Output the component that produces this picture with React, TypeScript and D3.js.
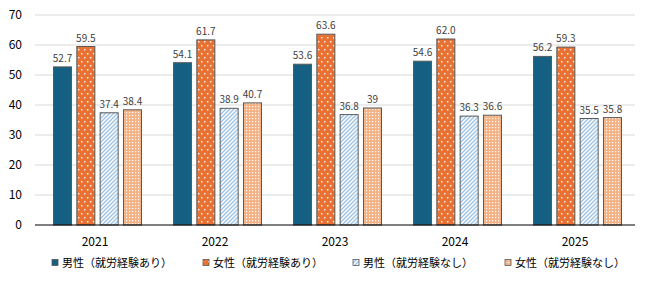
import React from "react";
import * as d3 from "d3";

const years = ["2021", "2022", "2023", "2024", "2025"];
const seriesNames = [
  "男性（就労経験あり）",
  "女性（就労経験あり）",
  "男性（就労経験なし）",
  "女性（就労経験なし）",
];
const maleWork = [52.7, 54.1, 53.6, 54.6, 56.2];
const femaleWork = [59.5, 61.7, 63.6, 62.0, 59.3];
const maleNoWork = [37.4, 38.9, 36.8, 36.3, 35.5];
const femaleNoWork = [38.4, 40.7, 39, 36.6, 35.8];
const maleWorkLabels = ["52.7", "54.1", "53.6", "54.6", "56.2"];
const femaleWorkLabels = ["59.5", "61.7", "63.6", "62.0", "59.3"];
const maleNoWorkLabels = ["37.4", "38.9", "36.8", "36.3", "35.5"];
const femaleNoWorkLabels = ["38.4", "40.7", "39", "36.6", "35.8"];
const yTicks = [0, 10, 20, 30, 40, 50, 60, 70];

const seriesValues = [maleWork, femaleWork, maleNoWork, femaleNoWork];
const seriesLabels = [maleWorkLabels, femaleWorkLabels, maleNoWorkLabels, femaleNoWorkLabels];
const fills = ["#156082", "url(#pDotsOrange)", "url(#pStripeBlue)", "url(#pDotsPeach)"];

const W = 650;
const H = 288;
const left = 35;
const right = 635;
const top = 15;
const bottom = 225;
const font = "'Noto Sans CJK JP', 'Noto Sans', sans-serif";

export default function App() {
  const y = d3.scaleLinear().domain([0, 70]).range([bottom, top]);
  const x0 = d3.scaleBand<string>().domain(years).range([left, right]);
  const x1 = d3
    .scaleBand<number>()
    .domain([0, 1, 2, 3])
    .range([18.5, 106.5])
    .paddingInner(5 / 22)
    .paddingOuter(0);
  const bw = x1.bandwidth();

  const legendX = [52, 203, 353, 505];

  return (
    <svg width={W} height={H} style={{ position: "absolute", left: 0, top: 0 }}>
      <defs>
        <pattern id="pDotsOrange" width="6" height="8" patternUnits="userSpaceOnUse">
          <rect width="6" height="8" fill="#E97132" />
          <rect x="1" y="1" width="1.4" height="1.4" fill="#ffffff" />
          <rect x="4" y="5" width="1.4" height="1.4" fill="#ffffff" />
        </pattern>
        <pattern id="pStripeBlue" width="4" height="4" patternUnits="userSpaceOnUse">
          <rect width="4" height="4" fill="#ffffff" />
          <path d="M-1,1 L1,-1 M0,4 L4,0 M3,5 L5,3" stroke="#9DC3E6" strokeWidth="1.4" />
        </pattern>
        <pattern id="pDotsPeach" width="3" height="3" patternUnits="userSpaceOnUse">
          <rect width="3" height="3" fill="#F4B183" />
          <rect x="1" y="1" width="1.2" height="1.2" fill="#ffffff" />
        </pattern>
      </defs>

      {yTicks.slice(1).map((t) => (
        <line key={t} x1={left} x2={right} y1={y(t)} y2={y(t)} stroke="#D9D9D9" strokeWidth={1} />
      ))}
      {yTicks.map((t) => (
        <text
          key={"t" + t}
          x={22}
          y={y(t)}
          dy="0.35em"
          textAnchor="end"
          fontSize={12}
          fontFamily={font}
          fill="#000"
        >
          {t}
        </text>
      ))}

      {years.map((yr, i) => (
        <g key={yr} transform={`translate(${x0(yr)},0)`}>
          {seriesValues.map((vals, s) => (
            <g key={s}>
              <rect
                x={x1(s)}
                y={y(vals[i])}
                width={bw}
                height={y(0) - y(vals[i])}
                fill={fills[s]}
                stroke="#595959"
                strokeWidth={1}
              />
              <text
                x={(x1(s) as number) + bw / 2}
                y={y(vals[i]) - 5}
                textAnchor="middle"
                fontSize={10}
                fontFamily={font}
                fill="#404040"
              >
                {seriesLabels[s][i]}
              </text>
            </g>
          ))}
          <text
            x={x0.bandwidth() / 2}
            y={246}
            textAnchor="middle"
            fontSize={12}
            fontFamily={font}
            fill="#000"
          >
            {yr}
          </text>
        </g>
      ))}

      <line x1={left} x2={right} y1={bottom} y2={bottom} stroke="#000" strokeWidth={1.2} />

      {seriesNames.map((n, s) => (
        <g key={n}>
          <rect
            x={legendX[s]}
            y={259.5}
            width={6}
            height={6}
            fill={fills[s]}
            stroke="#595959"
            strokeWidth={0.8}
          />
          <text x={legendX[s] + 10} y={267} fontSize={11} fontFamily={font} fill="#000">
            {n}
          </text>
        </g>
      ))}
    </svg>
  );
}
